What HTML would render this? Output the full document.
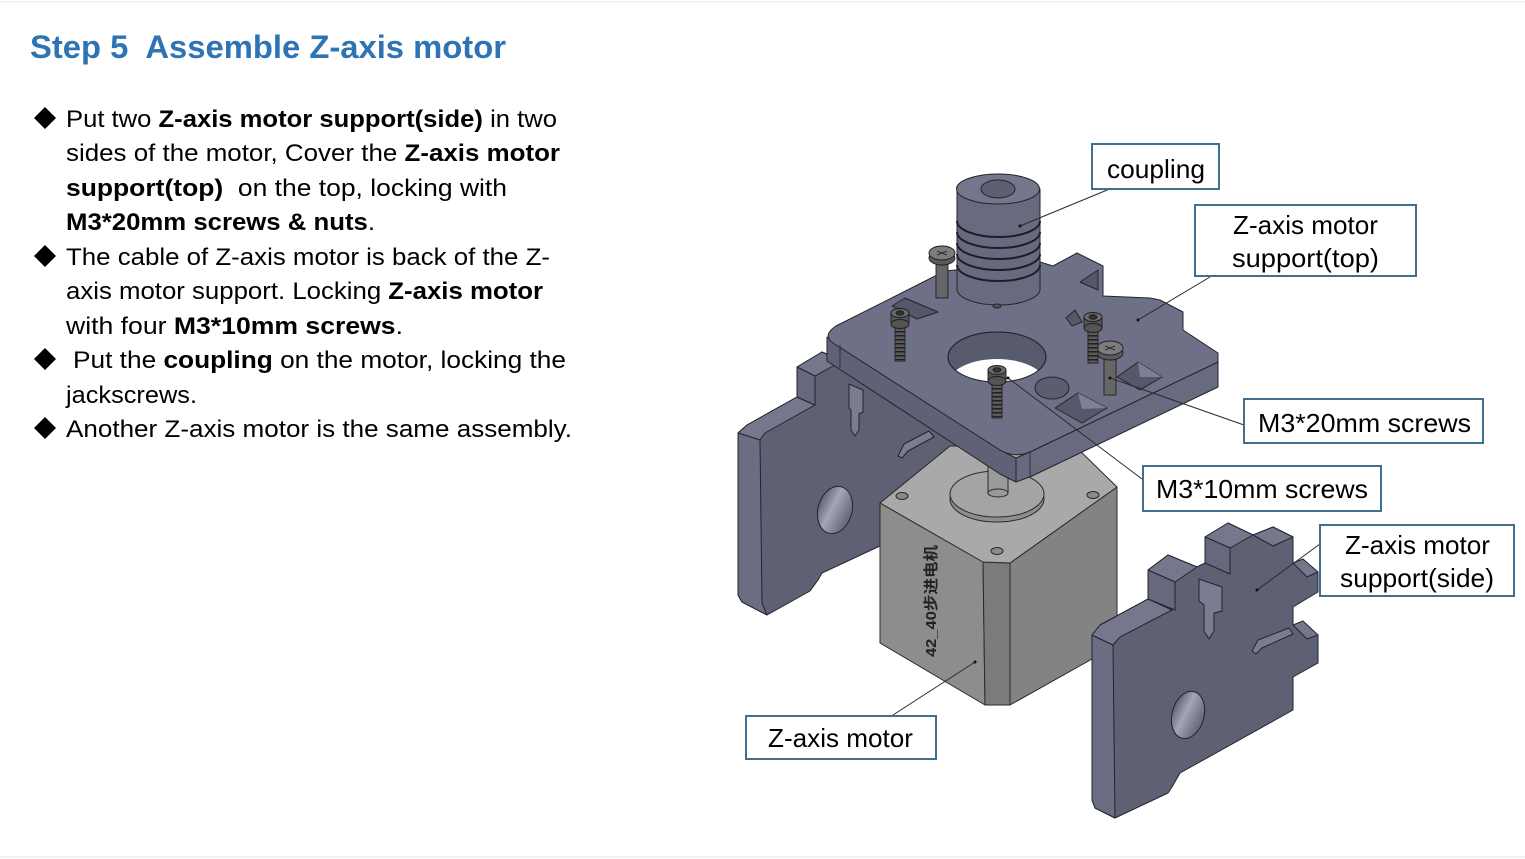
<!DOCTYPE html>
<html><head><meta charset="utf-8"><style>
html,body{margin:0;padding:0;background:#fff;}
svg{display:block;}
text{font-family:"Liberation Sans","Noto Sans CJK SC",sans-serif;white-space:pre;}
</style></head><body>
<svg width="1525" height="859" viewBox="0 0 1525 859" xmlns="http://www.w3.org/2000/svg" xml:space="preserve">
<defs>
<linearGradient id="hole" x1="0" y1="0" x2="1" y2="0.3">
<stop offset="0" stop-color="#4c4e62"/><stop offset="0.5" stop-color="#a3a5b8"/><stop offset="1" stop-color="#6a6c80"/>
</linearGradient>
<clipPath id="bigHole"><ellipse cx="997" cy="357" rx="49" ry="25"/></clipPath>
</defs>
<rect x="0" y="0" width="1525" height="859" fill="#fff"/>
<line x1="0" y1="2" x2="1525" y2="2" stroke="#f3f3f3" stroke-width="2"/>
<line x1="0" y1="857" x2="1525" y2="857" stroke="#f3f3f3" stroke-width="2"/>

<!-- Title -->
<text x="30" y="58" font-size="32" font-weight="bold" fill="#2e74b5" textLength="476" lengthAdjust="spacingAndGlyphs">Step 5  Assemble Z-axis motor</text>

<!-- Bullets -->
<g fill="#000">
<polygon points="45,107 56,118 45,129 34,118"/>
<polygon points="45,245 56,256 45,267 34,256"/>
<polygon points="45,348 56,359 45,370 34,359"/>
<polygon points="45,417 56,428 45,439 34,428"/>
</g>

<!-- Body text -->
<g font-size="24" fill="#000">
<text x="66" y="127" textLength="491" lengthAdjust="spacingAndGlyphs">Put two <tspan font-weight="bold">Z-axis motor support(side)</tspan> in two</text>
<text x="66" y="161" textLength="494" lengthAdjust="spacingAndGlyphs">sides of the motor, Cover the <tspan font-weight="bold">Z-axis motor</tspan></text>
<text x="66" y="196" textLength="441" lengthAdjust="spacingAndGlyphs"><tspan font-weight="bold">support(top)</tspan>  on the top, locking with</text>
<text x="66" y="230" textLength="309" lengthAdjust="spacingAndGlyphs"><tspan font-weight="bold">M3*20mm screws &amp; nuts</tspan>.</text>
<text x="66" y="265" textLength="484" lengthAdjust="spacingAndGlyphs">The cable of Z-axis motor is back of the Z-</text>
<text x="66" y="299" textLength="477" lengthAdjust="spacingAndGlyphs">axis motor support. Locking <tspan font-weight="bold">Z-axis motor</tspan></text>
<text x="66" y="334" textLength="337" lengthAdjust="spacingAndGlyphs">with four <tspan font-weight="bold">M3*10mm screws</tspan>.</text>
<text x="73" y="368" textLength="493" lengthAdjust="spacingAndGlyphs">Put the <tspan font-weight="bold">coupling</tspan> on the motor, locking the</text>
<text x="66" y="403" textLength="131" lengthAdjust="spacingAndGlyphs">jackscrews.</text>
<text x="66" y="437" textLength="506" lengthAdjust="spacingAndGlyphs">Another Z-axis motor is the same assembly.</text>
</g>

<!-- ===== Left side support ===== -->
<g stroke="#23242c" stroke-width="1" stroke-linejoin="round">
<polygon fill="#5e6074" points="738,433 747,425 797,397 797,367 822,352 845,362 1000,470 960,530 882,545 822,573 818,580 810,591 767,615 742,602 738,595"/>
<polygon fill="#75778d" points="738,433 747,425 797,397 815,405 765,433 760,440"/>
<polygon fill="#6b6d83" points="738,433 760,440 762,603 767,615 742,602 738,595"/>
<polygon fill="#75778d" points="797,367 822,352 842,361 815,376"/>
<polygon fill="#66687d" points="797,367 815,376 815,405 797,397"/>
<ellipse cx="835" cy="510" rx="17" ry="24" transform="rotate(15 835 510)" fill="url(#hole)"/>
<polygon fill="#7a7c92" points="849,384 863,390 863,412 859,414 859,430 855,436 851,430 851,410 849,408"/>
<polygon fill="#7a7c92" points="898,456 904,444 929,431 934,437 908,451 902,458"/>
</g>

<!-- ===== Motor ===== -->
<g stroke="#2a2a2a" stroke-width="1" stroke-linejoin="round">
<polygon fill="#8d8d8d" points="880,503 983,562 985,705 880,643"/>
<polygon fill="#7b7b7b" points="983,562 1010,563 1010,705 985,705"/>
<polygon fill="#838383" points="1010,563 1117,487 1117,645 1010,705"/>
<polygon fill="#a9a9a9" points="880,503 950,446 1075,446 1117,487 1010,563 983,562"/>
<ellipse cx="902" cy="496" rx="6" ry="3.5" fill="#8a8a8a"/>
<ellipse cx="1093" cy="495" rx="6" ry="3.5" fill="#8a8a8a"/>
<ellipse cx="997" cy="551" rx="6" ry="3.5" fill="#8a8a8a"/>
<ellipse cx="997" cy="499" rx="47" ry="23" fill="#8e8e8e"/>
<ellipse cx="997" cy="494" rx="47" ry="23" fill="#a4a4a4"/>
<rect x="988" y="455" width="20" height="38" fill="#9a9a9a"/>
<ellipse cx="998" cy="493" rx="10" ry="4" fill="#9a9a9a"/>
</g>
<text transform="translate(936,601) rotate(-90)" font-size="15" font-weight="bold" fill="#222" text-anchor="middle" textLength="112" lengthAdjust="spacingAndGlyphs">42_40步进电机</text>

<!-- ===== Top plate ===== -->
<g stroke="#23242c" stroke-width="1" stroke-linejoin="round">
<polygon fill="#5f6177" points="827,337 1000,450 1016,458 1016,482 1000,474 827,361"/>
<polygon fill="#686a80" points="1016,458 1032,451 1218,362 1218,387 1032,476 1016,482"/>
<path fill="#6e7088" d="M836,326 L945,271 L1040,262 L1053,266 L1077,253 L1103,266 L1103,296 L1150,298 L1160,300 L1183,312 L1183,330 L1218,353 L1218,362 L1032,451 Q1016,459 1000,450 L833,343 Q822,335 836,326 Z"/>
<line x1="840" y1="345" x2="840" y2="368" stroke-width="0.8"/>
<line x1="1030" y1="452" x2="1030" y2="477" stroke-width="0.8"/>
<ellipse cx="997" cy="357" rx="49" ry="25" fill="#585a6e"/>
<ellipse cx="997" cy="384" rx="49" ry="25" fill="#fff" stroke="none" clip-path="url(#bigHole)"/>
<ellipse cx="997" cy="357" rx="49" ry="25" fill="none"/>
<ellipse cx="1052" cy="388" rx="17" ry="11" fill="#5b5d71"/>
<polygon fill="#55576b" points="1055,408 1078,393 1107,408 1082,423"/>
<polygon fill="#7d7f95" stroke="none" points="1078,393 1107,408 1082,409"/>
<polygon fill="#55576b" points="1117,377 1138,362 1162,377 1140,390"/>
<polygon fill="#7d7f95" stroke="none" points="1138,362 1162,377 1140,377"/>
<polygon fill="#55576b" points="892,306 905,298 938,312 917,319"/>
<polygon fill="#55576b" points="1080,282 1098,270 1098,290"/>
<polygon fill="#55576b" points="1066,318 1075,310 1082,322 1072,326"/>
</g>

<!-- ===== Screws ===== -->
<g stroke="#1e1e1e" stroke-width="0.9">
<rect x="936" y="258" width="12" height="40" fill="#666"/>
<ellipse cx="942" cy="258" rx="13" ry="7" fill="#5a5a5a"/>
<ellipse cx="942" cy="253" rx="13" ry="7" fill="#7c7c7c"/>
<path d="M937,251 L947,255 M937,255 L947,251" fill="none"/>
<rect x="1104" y="353" width="12" height="42" fill="#666"/>
<ellipse cx="1110" cy="353" rx="13" ry="7" fill="#5a5a5a"/>
<ellipse cx="1110" cy="348" rx="13" ry="7" fill="#7c7c7c"/>
<path d="M1105,346 L1115,350 M1105,350 L1115,346" fill="none"/>

<rect x="895" y="323" width="10" height="38" fill="#5b5b5b"/>
<line x1="900" y1="327" x2="900" y2="360" stroke="#222" stroke-width="9" stroke-dasharray="1.5 2.5"/>
<rect x="891" y="313" width="18" height="11" fill="#555"/>
<ellipse cx="900" cy="324" rx="9" ry="4.5" fill="#555"/>
<ellipse cx="900" cy="313" rx="9" ry="4.5" fill="#6d6d6d"/>
<ellipse cx="900" cy="313" rx="4" ry="2.3" fill="#333"/>

<rect x="1088" y="327" width="10" height="36" fill="#5b5b5b"/>
<line x1="1093" y1="331" x2="1093" y2="362" stroke="#222" stroke-width="9" stroke-dasharray="1.5 2.5"/>
<rect x="1084" y="317" width="18" height="11" fill="#555"/>
<ellipse cx="1093" cy="328" rx="9" ry="4.5" fill="#555"/>
<ellipse cx="1093" cy="317" rx="9" ry="4.5" fill="#6d6d6d"/>
<ellipse cx="1093" cy="317" rx="4" ry="2.3" fill="#333"/>

<rect x="992" y="380" width="10" height="38" fill="#5b5b5b"/>
<line x1="997" y1="384" x2="997" y2="417" stroke="#222" stroke-width="9" stroke-dasharray="1.5 2.5"/>
<rect x="988" y="370" width="18" height="11" fill="#555"/>
<ellipse cx="997" cy="381" rx="9" ry="4.5" fill="#555"/>
<ellipse cx="997" cy="370" rx="9" ry="4.5" fill="#6d6d6d"/>
<ellipse cx="997" cy="370" rx="4" ry="2.3" fill="#333"/>
</g>

<!-- ===== Coupling ===== -->
<g stroke="#23242c" stroke-width="1">
<path fill="#686a80" d="M957,189 L957,289 A41.5,16 0 0 0 1040,289 L1040,189 Z"/>
<ellipse cx="998" cy="189" rx="41.5" ry="15" fill="#74768c"/>
<ellipse cx="998" cy="189" rx="17" ry="9" fill="#5d5f73"/>
<g fill="none" stroke="#1d1e25" stroke-width="2">
<path d="M957,221 A41.5,16 0 0 0 1040,221"/>
<path d="M957,232 A41.5,16 0 0 0 1040,232"/>
<path d="M957,243 A41.5,16 0 0 0 1040,243"/>
<path d="M957,254 A41.5,16 0 0 0 1040,254"/>
<path d="M957,265 A41.5,16 0 0 0 1040,265"/>
</g>
<ellipse cx="997" cy="306" rx="4" ry="2" fill="#555"/>
</g>

<!-- ===== Right side support ===== -->
<g stroke="#23242c" stroke-width="1" stroke-linejoin="round">
<polygon fill="#5e6074" points="1092,635 1100,625 1148,599 1148,570 1168,555 1197,567 1205,563 1205,537 1228,523 1253,535 1273,527 1293,537 1293,563 1318,572 1318,592 1293,607 1293,625 1318,635 1318,663 1293,677 1293,710 1180,773 1172,787 1168,793 1115,818 1095,808 1092,800"/>
<polygon fill="#6b6d83" points="1092,635 1113,645 1115,818 1095,808 1092,800"/>
<polygon fill="#75778d" points="1092,635 1100,625 1148,599 1172,610 1120,637 1113,645"/>
<polygon fill="#75778d" points="1148,570 1168,555 1197,567 1175,582"/>
<polygon fill="#66687d" points="1148,570 1175,582 1175,610 1148,599"/>
<polygon fill="#75778d" points="1205,537 1228,523 1253,535 1230,548"/>
<polygon fill="#66687d" points="1205,537 1230,548 1230,574 1205,563"/>
<polygon fill="#75778d" points="1253,535 1273,527 1293,537 1273,546"/>
<polygon fill="#75778d" points="1293,563 1303,559 1318,572 1307,577"/>
<polygon fill="#75778d" points="1293,625 1303,621 1318,635 1307,639"/>
<ellipse cx="1188" cy="715" rx="16" ry="24" transform="rotate(15 1188 715)" fill="url(#hole)"/>
<polygon fill="#7a7c92" points="1199,579 1222,587 1222,611 1214,613 1214,631 1209,639 1204,631 1204,605 1199,601"/>
<polygon fill="#7a7c92" points="1252,651 1258,640 1289,628 1293,634 1262,648 1256,654"/>
</g>

<!-- ===== Leader lines ===== -->
<g stroke="#2b2b2b" stroke-width="1" fill="#111">
<line x1="1112" y1="188" x2="1020" y2="226"/><circle cx="1020" cy="226" r="1.5" stroke="none"/>
<line x1="1210" y1="277" x2="1138" y2="320"/><circle cx="1138" cy="320" r="1.5" stroke="none"/>
<line x1="1244" y1="425" x2="1110" y2="378"/><circle cx="1110" cy="378" r="1.5" stroke="none"/>
<line x1="1142" y1="479" x2="1008" y2="378"/><circle cx="1008" cy="378" r="1.5" stroke="none"/>
<line x1="1320" y1="544" x2="1257" y2="590"/><circle cx="1257" cy="590" r="1.5" stroke="none"/>
<line x1="893" y1="715" x2="975" y2="662"/><circle cx="975" cy="662" r="1.5" stroke="none"/>
</g>

<!-- ===== Label boxes ===== -->
<g fill="#fff" stroke="#41708f" stroke-width="2">
<rect x="1092" y="144" width="127" height="45"/>
<rect x="1195" y="205" width="221" height="71"/>
<rect x="1244" y="399" width="239" height="44"/>
<rect x="1143" y="466" width="238" height="45"/>
<rect x="1320" y="525" width="194" height="71"/>
<rect x="746" y="716" width="190" height="43"/>
</g>
<g font-size="26" fill="#000">
<text x="1107" y="178" textLength="98" lengthAdjust="spacingAndGlyphs">coupling</text>
<text x="1233" y="234" textLength="145" lengthAdjust="spacingAndGlyphs">Z-axis motor</text>
<text x="1232" y="267" textLength="147" lengthAdjust="spacingAndGlyphs">support(top)</text>
<text x="1258" y="432" textLength="213" lengthAdjust="spacingAndGlyphs">M3*20mm screws</text>
<text x="1156" y="498" textLength="212" lengthAdjust="spacingAndGlyphs">M3*10mm screws</text>
<text x="1345" y="554" textLength="145" lengthAdjust="spacingAndGlyphs">Z-axis motor</text>
<text x="1340" y="587" textLength="154" lengthAdjust="spacingAndGlyphs">support(side)</text>
<text x="768" y="747" textLength="145" lengthAdjust="spacingAndGlyphs">Z-axis motor</text>
</g>
</svg>
</body></html>
